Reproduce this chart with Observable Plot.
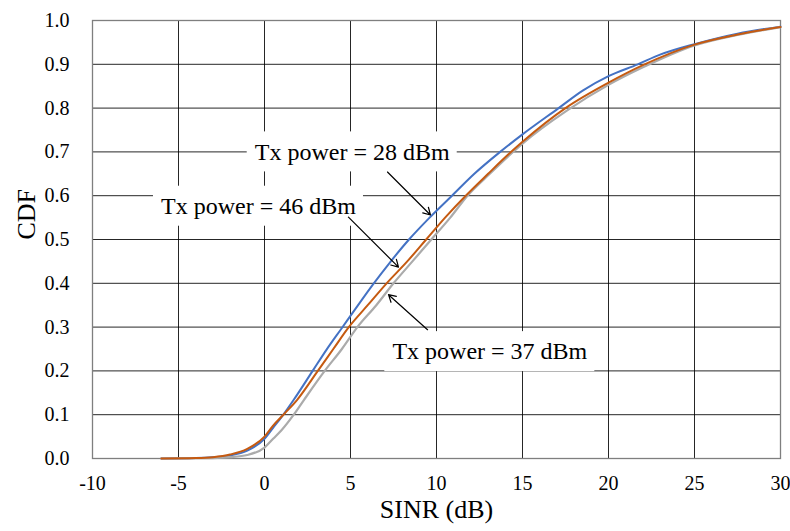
<!DOCTYPE html>
<html>
<head>
<meta charset="utf-8">
<script src="https://cdn.jsdelivr.net/npm/d3@7"></script>
<script src="https://cdn.jsdelivr.net/npm/@observablehq/plot@0.6"></script>
<style>
  html, body { margin: 0; padding: 0; background: #fff; }
  #chart { width: 790px; height: 531px; }
  #chart svg, #chart svg text { font-family: "Liberation Serif", "Times New Roman", serif !important; }
</style>
</head>
<body>
<div id="chart"></div>
<script>
// Tx power = 28 dBm (blue)
const sinr28 = [-6, -4, -3, -2, -1, 0, 0.5, 1, 1.7, 2.8, 3.6, 4.5, 5.4, 6.3, 7.3, 8.4, 9.6, 10.9, 12.2, 13.7, 15, 17.1, 18.5, 20, 21.7, 23, 25, 27.5, 30];
const cdf28  = [0, 0.001, 0.003, 0.007, 0.018, 0.045, 0.07, 0.095, 0.134, 0.2, 0.248, 0.298, 0.348, 0.397, 0.448, 0.5, 0.55, 0.6, 0.65, 0.7, 0.74, 0.8, 0.84, 0.873, 0.9, 0.922, 0.946, 0.97, 0.986];
// Tx power = 37 dBm (gray)
const sinr37 = [-6, -3, -2, -1, 0, 0.5, 1, 1.7, 2.3, 3.5, 4.5, 5.4, 6.5, 7.5, 8.6, 9.7, 10.8, 11.8, 13.1, 14.4, 15, 17.6, 20, 22, 25, 27.5, 30];
const cdf37  = [0, 0.001, 0.003, 0.008, 0.025, 0.045, 0.065, 0.1, 0.134, 0.2, 0.25, 0.3, 0.35, 0.4, 0.45, 0.5, 0.55, 0.6, 0.65, 0.698, 0.719, 0.795, 0.853, 0.893, 0.943, 0.967, 0.985];
// Tx power = 46 dBm (orange)
const sinr46 = [-6, -4, -3, -2, -1, 0, 0.5, 1.1, 1.9, 3.1, 4.0, 4.9, 6.0, 7.1, 8.3, 9.4, 10.5, 11.7, 13.0, 14.2, 15, 17.5, 20, 22, 25, 27.5, 30];
const cdf46  = [0, 0.001, 0.003, 0.009, 0.022, 0.05, 0.075, 0.1, 0.134, 0.2, 0.25, 0.3, 0.35, 0.4, 0.45, 0.5, 0.55, 0.6, 0.65, 0.695, 0.723, 0.8, 0.858, 0.898, 0.945, 0.968, 0.985];

const xTicks = [-10, -5, 0, 5, 10, 15, 20, 25, 30];
const yTicks = [0, 0.1, 0.2, 0.3, 0.4, 0.5, 0.6, 0.7, 0.8, 0.9, 1.0];

// annotations (data units)
const labelText = ["Tx power = 28 dBm", "Tx power = 46 dBm", "Tx power = 37 dBm"];
const labelX = [5.1, -0.35, 13.1];
const labelY = [0.70, 0.576, 0.244];
const arrowX1 = [7.15, 4.88, 9.48];
const arrowY1 = [0.654, 0.551, 0.294];
const arrowX2 = [9.65, 7.79, 7.21];
const arrowY2 = [0.556, 0.437, 0.374];

const toRows = (xs, ys) => xs.map((x, i) => ({x, y: ys[i]}));
const d28 = toRows(sinr28, cdf28);
const d37 = toRows(sinr37, cdf37);
const d46 = toRows(sinr46, cdf46);
const labels = labelText.map((t, i) => ({t, x: labelX[i], y: labelY[i]}));
const arrows = arrowX1.map((x1, i) => ({x1, y1: arrowY1[i], x2: arrowX2[i], y2: arrowY2[i]}));

const font = "Liberation Serif";

const chart = Plot.plot({
  width: 790,
  height: 531,
  marginLeft: 92,
  marginRight: 10,
  marginTop: 20,
  marginBottom: 73,
  style: {fontFamily: font, background: "#fff", color: "#000"},
  x: {domain: [-10, 30]},
  y: {domain: [0, 1]},
  marks: [
    Plot.gridX(xTicks, {stroke: "#000", strokeOpacity: 0.85, strokeWidth: 1}),
    Plot.gridY(yTicks, {stroke: "#000", strokeOpacity: 0.85, strokeWidth: 1}),
    Plot.frame({stroke: "#7f7f7f", strokeWidth: 1.3}),
    Plot.axisX(xTicks, {tickSize: 0, tickPadding: 17, fontSize: 20, fontFamily: font, label: null, tickFormat: d => String(d)}),
    Plot.axisY(yTicks, {tickSize: 0, tickPadding: 23, fontSize: 20, fontFamily: font, label: null, tickFormat: d3.format(".1f")}),
    Plot.line(d28, {x: "x", y: "y", stroke: "#4472C4", strokeWidth: 2, curve: "monotone-x"}),
    Plot.line(d37, {x: "x", y: "y", stroke: "#ABABAB", strokeWidth: 2.2, curve: "monotone-x"}),
    Plot.line(d46, {x: "x", y: "y", stroke: "#C55A11", strokeWidth: 2, curve: "monotone-x"}),
    Plot.rect(labels, {x1: "x", x2: "x", y1: "y", y2: "y", insetLeft: -105, insetRight: -105, insetTop: -20, insetBottom: -20, fill: "#fff"}),
    Plot.text(labels, {x: "x", y: "y", text: "t", fontSize: 24, fontFamily: font, fill: "#000"}),
    Plot.arrow(arrows, {x1: "x1", y1: "y1", x2: "x2", y2: "y2", stroke: "#000", strokeWidth: 1.2, headLength: 10}),
    Plot.text(["SINR (dB)"], {frameAnchor: "bottom", dy: 59, text: d => d, fontSize: 26, fontFamily: font, fill: "#000"}),
    Plot.text(["CDF"], {frameAnchor: "left", dx: -66, rotate: -90, text: d => d, fontSize: 26, fontFamily: font, fill: "#000"})
  ]
});
document.getElementById("chart").appendChild(chart);
</script>
</body>
</html>
